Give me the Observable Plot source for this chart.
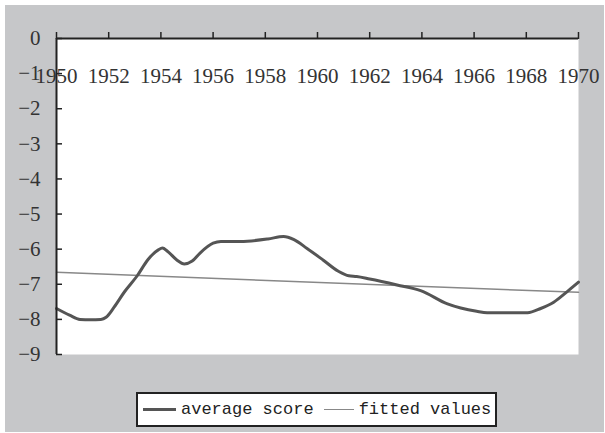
<!DOCTYPE html>
<html>
<head>
<meta charset="utf-8">
<script src="https://cdn.jsdelivr.net/npm/d3@7"></script>
<script src="https://cdn.jsdelivr.net/npm/@observablehq/plot@0.6"></script>
<style>
  html, body { margin: 0; padding: 0; background: #ffffff; width: 605px; height: 433px; overflow: hidden; }
  #bg { position: absolute; left: 5px; top: 5px; width: 599px; height: 427px; background: #c6c7c9; }
  #chart { position: absolute; left: 0; top: 0; }
  #chart svg { background: transparent; }
  #legend { position: absolute; left: 136px; top: 392px; width: 357px; height: 31px; border: 2px solid #222; background: #fff;
            font-family: "Liberation Mono", monospace; font-size: 17px; color: #222; display: flex; align-items: center; }
  .sw { display: inline-block; height: 0; margin-right: 5px; }
</style>
</head>
<body>
<div id="bg"></div>
<div id="chart"></div>
<div id="legend">
  <span class="sw" style="width:33px; border-top:3px solid #555; margin-left:5px;"></span><span>average score</span>
  <span class="sw" style="width:30px; border-top:1.5px solid #888; margin-left:10px;"></span><span>fitted values</span>
</div>
<script>
const years  = [1950, 1950.5, 1950.9, 1951.3, 1951.7, 1951.9, 1952.2, 1952.6, 1953.1, 1953.5, 1953.9, 1954.06, 1954.25, 1954.6, 1954.9, 1955.2, 1955.5, 1956.0, 1956.3, 1957.05, 1958.1, 1958.7, 1959.1, 1959.6, 1960.2, 1960.8, 1961.2, 1961.5, 1962.0, 1963.05, 1963.95, 1964.98, 1966.1, 1966.5, 1968.05, 1968.55, 1969.05, 1969.58, 1970];
const scores = [-7.69, -7.88, -8.0, -8.01, -8.0, -7.94, -7.66, -7.22, -6.75, -6.3, -6.02, -5.97, -6.06, -6.3, -6.42, -6.34, -6.11, -5.83, -5.78, -5.78, -5.71, -5.64, -5.73, -5.98, -6.3, -6.63, -6.76, -6.78, -6.85, -7.02, -7.18, -7.56, -7.77, -7.81, -7.81, -7.69, -7.51, -7.2, -6.94];
const fitYears  = [1950, 1970];
const fitValues = [-6.66, -7.23];
const xTicks = [1950, 1952, 1954, 1956, 1958, 1960, 1962, 1964, 1966, 1968, 1970];
const yTicks = [0, -1, -2, -3, -4, -5, -6, -7, -8, -9];

const avg = years.map((y, i) => ({year: y, value: scores[i]}));
const fit = fitYears.map((y, i) => ({year: y, value: fitValues[i]}));

const W = 605, ML = 56, MR = 27;
const plot = Plot.plot({
  width: W,
  height: 390,
  marginLeft: ML,
  marginRight: MR,
  marginTop: 38,
  marginBottom: 36,
  style: {fontFamily: "Liberation Serif, serif", fontSize: "21px", color: "#333", background: "transparent"},
  x: {domain: [1950, 1970], axis: null, label: null},
  y: {domain: [-9, 0], axis: null, label: null},
  marks: [
    Plot.frame({fill: "white", stroke: null}),
    Plot.line(fit, {x: "year", y: "value", stroke: "#888", strokeWidth: 1.5}),
    Plot.line(avg, {x: "year", y: "value", stroke: "#555", strokeWidth: 3, curve: "monotone-x"}),
    Plot.tickY(yTicks, {y: d => d, insetRight: W - ML - MR - 6, stroke: "#222", strokeWidth: 1.5}),
    Plot.axisY(yTicks, {anchor: "left", tickSize: 0, tickPadding: 16, label: null,
      tickFormat: d => d === 0 ? "0" : "\u2212" + Math.abs(d), fontSize: 21, fill: "#333"}),
    Plot.axisX(xTicks, {anchor: "top", tickSize: 7, stroke: "#222", strokeWidth: 1.5, tickFormat: () => "", label: null}),
    Plot.text(xTicks, {x: d => d, text: d => String(d), frameAnchor: "top", lineAnchor: "middle", dy: 38, fontSize: 21, fill: "#333"}),
    Plot.ruleX([1950], {stroke: "#222", strokeWidth: 2}),
    Plot.ruleY([0], {stroke: "#222", strokeWidth: 2})
  ]
});
document.getElementById("chart").appendChild(plot);
</script>
</body>
</html>
